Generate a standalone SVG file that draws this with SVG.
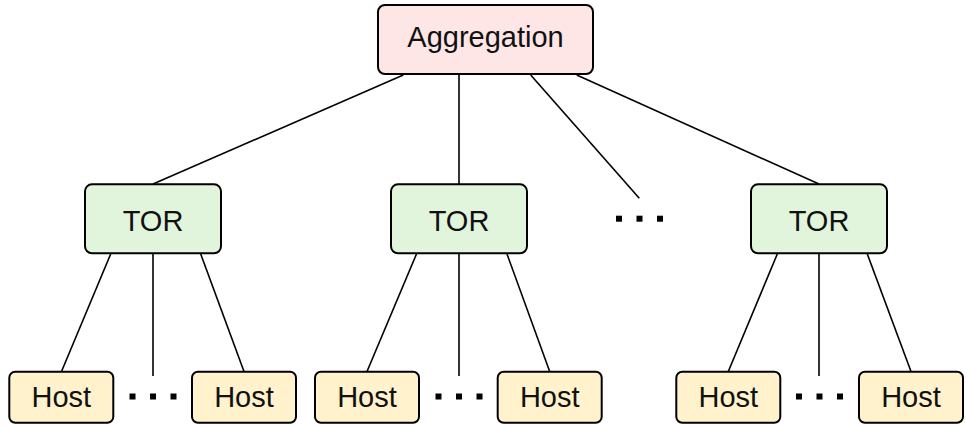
<svg xmlns="http://www.w3.org/2000/svg" width="966" height="427" viewBox="0 0 966 427">
  <defs>
    <style>
      .box { stroke: #000; stroke-width: 2; }
      .agg { fill: #ffe6e6; }
      .tor { fill: #e0f5dc; }
      .host { fill: #fff2cc; }
      .lbl { font-family: "Liberation Sans", Arial, sans-serif; font-size: 29px; fill: #111; text-anchor: middle; }
      .link { stroke: #000; stroke-width: 1.6; fill: none; }
      .dot { fill: #000; }
    </style>
    <!-- ellipsis: three small squares, centred on the origin -->
    <g id="ellipsis">
      <rect class="dot" x="-23.5" y="-3" width="6" height="6"/>
      <rect class="dot" x="-3" y="-3" width="6" height="6"/>
      <rect class="dot" x="17.5" y="-3" width="6" height="6"/>
    </g>
  </defs>

  <rect width="966" height="427" fill="#fff"/>

  <!-- connectors -->
  <g id="connectors">
    <line class="link" x1="403.3" y1="75" x2="153" y2="184"/>
    <line class="link" x1="459" y1="75" x2="459" y2="184"/>
    <line class="link" x1="530.7" y1="75" x2="639.3" y2="198.3"/>
    <line class="link" x1="576.7" y1="75" x2="819" y2="184"/>

    <line class="link" x1="110.7" y1="254" x2="61.5" y2="371.5"/>
    <line class="link" x1="153" y1="254" x2="153" y2="376"/>
    <line class="link" x1="200.7" y1="254" x2="244" y2="371.5"/>

    <line class="link" x1="416.5" y1="254" x2="367" y2="371.5"/>
    <line class="link" x1="459" y1="254" x2="459" y2="376"/>
    <line class="link" x1="507" y1="254" x2="549.7" y2="371.5"/>

    <line class="link" x1="777.3" y1="254" x2="728.3" y2="371.5"/>
    <line class="link" x1="819" y1="254" x2="819" y2="376"/>
    <line class="link" x1="867.3" y1="254" x2="911" y2="371.5"/>
  </g>

  <!-- aggregation switch -->
  <g id="aggregation">
    <rect class="box agg" x="378" y="5" width="215" height="69" rx="7"/>
    <text class="lbl" x="485.5" y="47">Aggregation</text>
  </g>

  <!-- top-of-rack switches -->
  <g id="tor1">
    <rect class="box tor" x="85" y="184.3" width="136" height="69" rx="7"/>
    <text class="lbl" x="153" y="230.7">TOR</text>
  </g>
  <g id="tor2">
    <rect class="box tor" x="391" y="184.3" width="136" height="69" rx="7"/>
    <text class="lbl" x="459" y="230.7">TOR</text>
  </g>
  <g id="tor3">
    <rect class="box tor" x="751" y="184.3" width="136" height="69" rx="7"/>
    <text class="lbl" x="819" y="230.7">TOR</text>
  </g>

  <!-- elided switches and hosts -->
  <g id="tor-ellipsis"><use href="#ellipsis" x="639.5" y="218.7"/></g>
  <g id="host-ellipsis1"><use href="#ellipsis" x="153" y="396.5"/></g>
  <g id="host-ellipsis2"><use href="#ellipsis" x="459" y="396.5"/></g>
  <g id="host-ellipsis3"><use href="#ellipsis" x="819.5" y="396.5"/></g>

  <!-- hosts -->
  <g id="host1">
    <rect class="box host" x="9.3" y="371.7" width="104" height="51" rx="6"/>
    <text class="lbl" x="61.3" y="406.7">Host</text>
  </g>
  <g id="host2">
    <rect class="box host" x="192" y="371.7" width="104" height="51" rx="6"/>
    <text class="lbl" x="244" y="406.7">Host</text>
  </g>
  <g id="host3">
    <rect class="box host" x="315" y="371.7" width="104" height="51" rx="6"/>
    <text class="lbl" x="367" y="406.7">Host</text>
  </g>
  <g id="host4">
    <rect class="box host" x="497.7" y="371.7" width="104" height="51" rx="6"/>
    <text class="lbl" x="549.7" y="406.7">Host</text>
  </g>
  <g id="host5">
    <rect class="box host" x="676.3" y="371.7" width="104" height="51" rx="6"/>
    <text class="lbl" x="728.3" y="406.7">Host</text>
  </g>
  <g id="host6">
    <rect class="box host" x="859" y="371.7" width="104" height="51" rx="6"/>
    <text class="lbl" x="911" y="406.7">Host</text>
  </g>
</svg>
